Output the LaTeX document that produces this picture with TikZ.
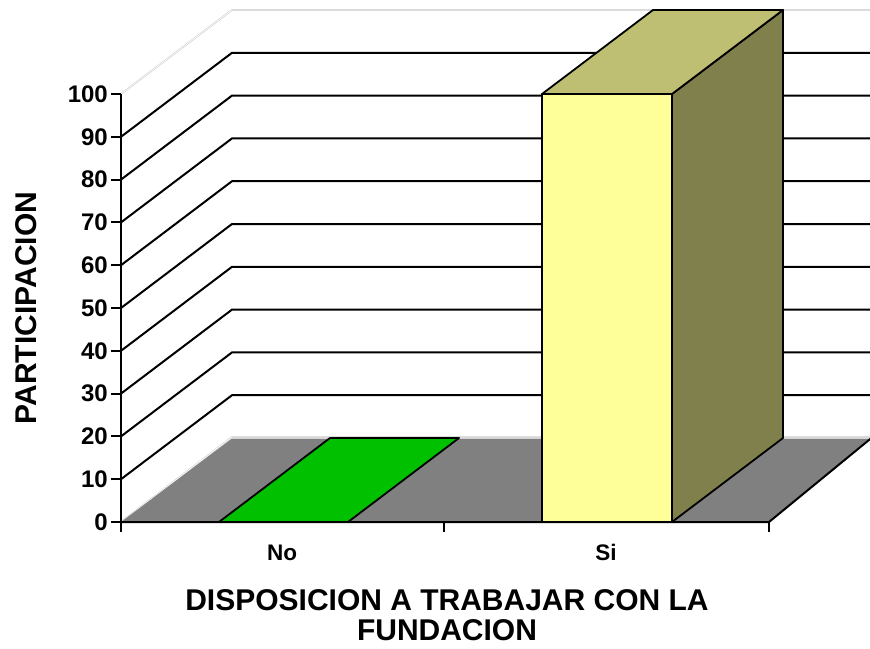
\documentclass[tikz,border=0pt]{standalone}
\usepackage{fontspec}
\setmainfont{Liberation Sans}
\definecolor{floorgray}{RGB}{128,128,128}
\definecolor{barno}{RGB}{0,192,0}
\definecolor{sifront}{RGB}{255,255,153}
\definecolor{sitop}{RGB}{191,191,115}
\definecolor{siside}{RGB}{128,128,77}
\definecolor{lightedge}{RGB}{200,200,200}
\begin{document}
\begin{tikzpicture}[x=1pt,y=-1pt,
  gridline/.style={line width=2pt,black},
  paleline/.style={draw=lightedge,line width=0.5pt,double=white,double distance=0.7pt},
  barface/.style={draw=black,line width=1.8pt,line join=round},
  ticklabel/.style={font=\bfseries\fontsize{24}{24}\selectfont,anchor=base east,inner sep=0pt},
  catlabel/.style={font=\bfseries\fontsize{22.5}{22.5}\selectfont,anchor=base,inner sep=0pt},
  axistitle/.style={font=\bfseries\fontsize{30}{30}\selectfont,inner sep=0pt}]
\useasboundingbox (0,0) rectangle (870,648);
\begin{scope}
\clip (0,0) rectangle (870,648);
% back wall and side wall grid lines
\foreach \v in {10,20,...,90}{
  \pgfmathsetmacro{\yf}{522-4.28*\v}
  \pgfmathsetmacro{\yb}{\yf-84}
  \draw[gridline] (121,\yf) -- (232,\yb) -- (875,\yb);
}
\draw[paleline] (121,94) -- (232,10) -- (875,10);
\draw[paleline] (121,522) -- (232,437) -- (875,437);
% floor
\coordinate (fl1) at (121,522);
\coordinate (fl2) at (232,438.5);
\coordinate (fl3) at (875,438.5);
\coordinate (fl4) at (769,522);
\coordinate (fl5) at (872,437.5);
\fill[floorgray] (fl1) -- (fl2) -- (fl3) -- (fl5) -- (fl4) -- cycle;
\draw[gridline] (fl1) -- (fl4) -- (fl5);
% bar No
\coordinate (n1) at (219,522);
\coordinate (n2) at (348,522);
\coordinate (n3) at (459,438);
\coordinate (n4) at (330,438);
\filldraw[barface,fill=barno] (n1) -- (n2) -- (n3) -- (n4) -- cycle;
% bar Si
\coordinate (s1) at (542,522);
\coordinate (s2) at (672,522);
\coordinate (s3) at (672,94);
\coordinate (s4) at (542,94);
\coordinate (s5) at (653,10);
\coordinate (s6) at (783,10);
\coordinate (s7) at (783,438);
\filldraw[barface,fill=siside] (s2) -- (s3) -- (s6) -- (s7) -- cycle;
\filldraw[barface,fill=sitop] (s4) -- (s5) -- (s6) -- (s3) -- cycle;
\filldraw[barface,fill=sifront] (s1) -- (s2) -- (s3) -- (s4) -- cycle;
\end{scope}
% axes
\coordinate (yaxtop) at (121,94);
\coordinate (yaxbot) at (121,532);
\draw[gridline] (yaxtop) -- (yaxbot);
\foreach \v in {0,10,...,100}{
  \pgfmathsetmacro{\yf}{522-4.28*\v}
  \draw[gridline] (111,\yf) -- (121,\yf);
  \node[ticklabel] (t\v) at (108,\yf+8.2) {\v};
}
\foreach \x in {444,769}{
  \draw[gridline] (\x,522) -- (\x,532);
}
\node[catlabel] (labno) at (282,560) {No};
\node[catlabel] (labsi) at (606,560) {Si};
\node[axistitle,rotate=90] (ytitle) at (26,308) {PARTICIPACION};
\node[axistitle,anchor=base] (xtitle1) at (447,610) {DISPOSICION A TRABAJAR CON LA};
\node[axistitle,anchor=base,text depth=0pt] (xtitle2) at (447,640) {FUNDACION};
\end{tikzpicture}
\end{document}
